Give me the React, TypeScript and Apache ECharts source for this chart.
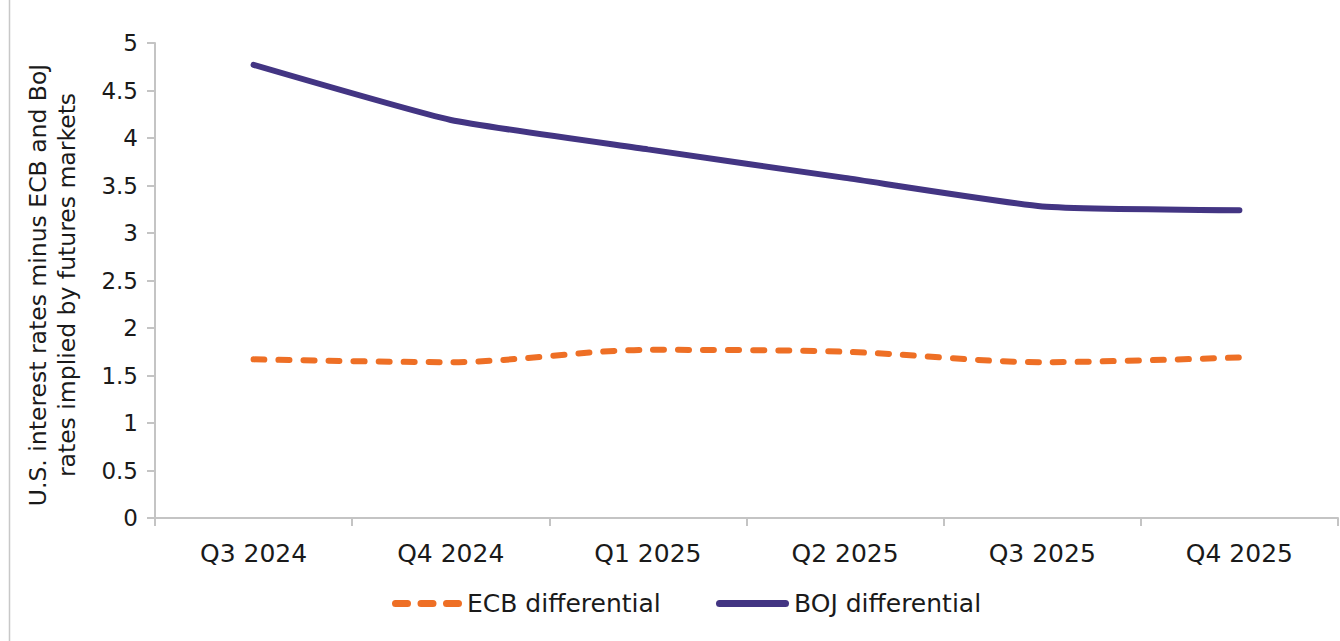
import React, { useEffect, useRef } from "react";
import * as echarts from "echarts";

// Quarters on the horizontal axis
const quarters = ["Q3 2024", "Q4 2024", "Q1 2025", "Q2 2025", "Q3 2025", "Q4 2025"];

// Rate differentials (percentage points)
const ecbDifferential = [1.67, 1.64, 1.77, 1.75, 1.64, 1.69];
const bojDifferential = [4.77, 4.19, 3.88, 3.58, 3.28, 3.24];

const yAxisTitle = "U.S. interest rates minus ECB and BoJ\nrates implied by futures markets";

const FONT = "'DejaVu Sans', 'Noto Sans', sans-serif";
const TEXT_COLOR = "#1a1a1a";
const AXIS_COLOR = "#c4c4c4";
const ECB_COLOR = "#ee6f25";
const BOJ_COLOR = "#433583";

// Legend swatches: three rounded dashes for the dashed series, one bar for the solid one
const dash = (x: number) =>
  `M${x + 3.5},0H${x + 15.5}A3.5,3.5 0 0 1 ${x + 15.5},7H${x + 3.5}A3.5,3.5 0 0 1 ${x + 3.5},0Z`;
const DASHED_ICON = "path://" + dash(0) + dash(25.5) + dash(51);
const SOLID_ICON = "path://M3.5,0H69.5A3.5,3.5 0 0 1 69.5,7H3.5A3.5,3.5 0 0 1 3.5,0Z";

export default function App() {
  const ref = useRef<HTMLDivElement>(null);

  useEffect(() => {
    if (!ref.current) return;
    const chart = echarts.init(ref.current, undefined, { renderer: "svg" });
    const legendText = { fontFamily: FONT, fontSize: 25, color: TEXT_COLOR };
    chart.setOption({
      animation: false,
      backgroundColor: "#ffffff",
      textStyle: { fontFamily: FONT },
      grid: { left: 155, right: 2, top: 43, bottom: 123, containLabel: false },
      legend: [
        {
          left: 387,
          top: 586,
          itemWidth: 70,
          itemHeight: 7,
          textStyle: legendText,
          data: [{ name: "ECB differential", icon: DASHED_ICON }],
        },
        {
          left: 711,
          top: 586,
          itemWidth: 73,
          itemHeight: 7,
          textStyle: legendText,
          data: [{ name: "BOJ differential", icon: SOLID_ICON }],
        },
      ],
      xAxis: {
        type: "category",
        data: quarters,
        boundaryGap: true,
        axisLine: { lineStyle: { color: AXIS_COLOR, width: 2 } },
        axisTick: { show: true, length: 8, lineStyle: { color: AXIS_COLOR, width: 2 } },
        axisLabel: { fontFamily: FONT, fontSize: 25, color: TEXT_COLOR, margin: 23 },
        splitLine: { show: false },
      },
      yAxis: {
        type: "value",
        min: 0,
        max: 5,
        interval: 0.5,
        axisLine: { show: true, lineStyle: { color: AXIS_COLOR, width: 2 } },
        axisTick: { show: true, length: 8, lineStyle: { color: AXIS_COLOR, width: 2 } },
        axisLabel: { fontFamily: FONT, fontSize: 23, color: TEXT_COLOR, margin: 17 },
        splitLine: { show: false },
      },
      series: [
        {
          name: "ECB differential",
          type: "line",
          data: ecbDifferential,
          symbol: "none",
          smooth: 0.3,
          color: ECB_COLOR,
          lineStyle: { color: ECB_COLOR, width: 6, type: [11, 14], cap: "round" },
        },
        {
          name: "BOJ differential",
          type: "line",
          data: bojDifferential,
          symbol: "none",
          smooth: 0.15,
          color: BOJ_COLOR,
          lineStyle: { color: BOJ_COLOR, width: 6, cap: "round" },
        },
      ],
      graphic: [
        {
          type: "line",
          shape: { x1: 9.5, y1: 0, x2: 9.5, y2: 641 },
          style: { stroke: "#c8c8c8", lineWidth: 1.5 },
        },
        {
          type: "text",
          x: 52,
          y: 285,
          rotation: Math.PI / 2,
          style: {
            text: yAxisTitle,
            fontFamily: FONT,
            fontSize: 23.5,
            lineHeight: 29,
            fill: TEXT_COLOR,
            align: "center",
            verticalAlign: "middle",
          },
        },
      ],
    });
    return () => chart.dispose();
  }, []);

  return (
    <div
      ref={ref}
      style={{ position: "absolute", left: 0, top: 0, width: 1340, height: 641 }}
    />
  );
}
